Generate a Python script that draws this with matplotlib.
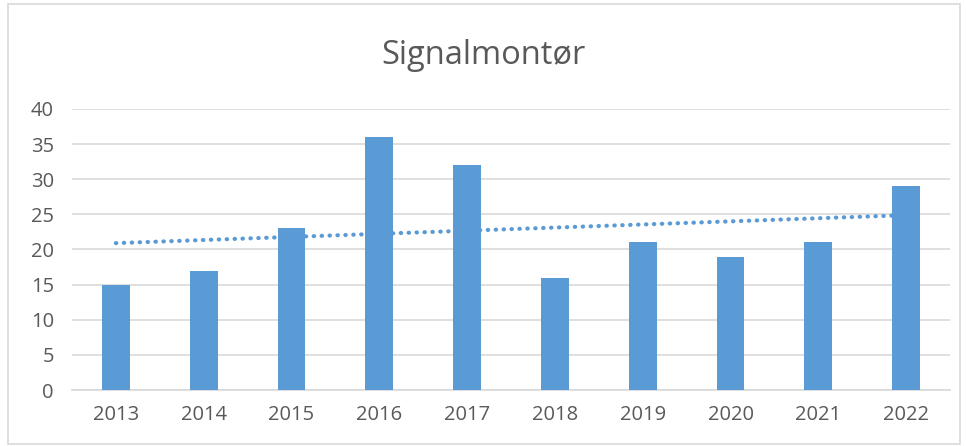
import numpy as np
import matplotlib.pyplot as plt
from matplotlib.patches import Rectangle

# chart data
years = ['2013', '2014', '2015', '2016', '2017', '2018', '2019', '2020', '2021', '2022']
counts = [15, 17, 23, 36, 32, 16, 21, 19, 21, 29]

plt.rcParams['font.family'] = ['Open Sans', 'DejaVu Sans']
text_color = '#595959'
bar_color = '#5B9BD5'

fig = plt.figure(figsize=(9.66, 4.46), dpi=100)
ax = fig.add_axes([72 / 966, 56 / 446, 878 / 966, 281 / 446])

x = np.arange(len(years))
ax.bar(x, counts, width=0.315, color=bar_color, zorder=3)

# linear trendline, like Excel's
slope, intercept = np.polyfit(x, counts, 1)
ax.plot([x[0], x[-1]], [intercept, intercept + slope * x[-1]],
        linestyle=(0, (0.1, 1.8)), color=bar_color, linewidth=3,
        dash_capstyle='round', zorder=4)

ax.set_xlim(-0.5, len(years) - 0.5)
ax.set_ylim(0, 40)
ax.set_yticks(range(0, 41, 5))
ax.set_xticks(x)
ax.set_xticklabels(years)
ax.yaxis.grid(True, color='#D9D9D9', linewidth=1.2, zorder=0)
for side in ['top', 'right', 'left']:
    ax.spines[side].set_visible(False)
ax.spines['bottom'].set_color('#D9D9D9')
ax.spines['bottom'].set_linewidth(1.2)
ax.tick_params(axis='both', length=0, labelsize=14.5, colors=text_color)
ax.tick_params(axis='y', pad=13)
ax.tick_params(axis='x', pad=11)

fig.text(0.5, 1 - 55 / 446, 'Signalmontør', ha='center', va='center',
         fontsize=23.5, color=text_color)

# outer chart border
fig.patches.append(Rectangle((8 / 966, 2 / 446), 952 / 966, 440 / 446,
                             transform=fig.transFigure, fill=False,
                             edgecolor='#D9D9D9', linewidth=1.2))

fig.savefig('out.png', dpi=100)
